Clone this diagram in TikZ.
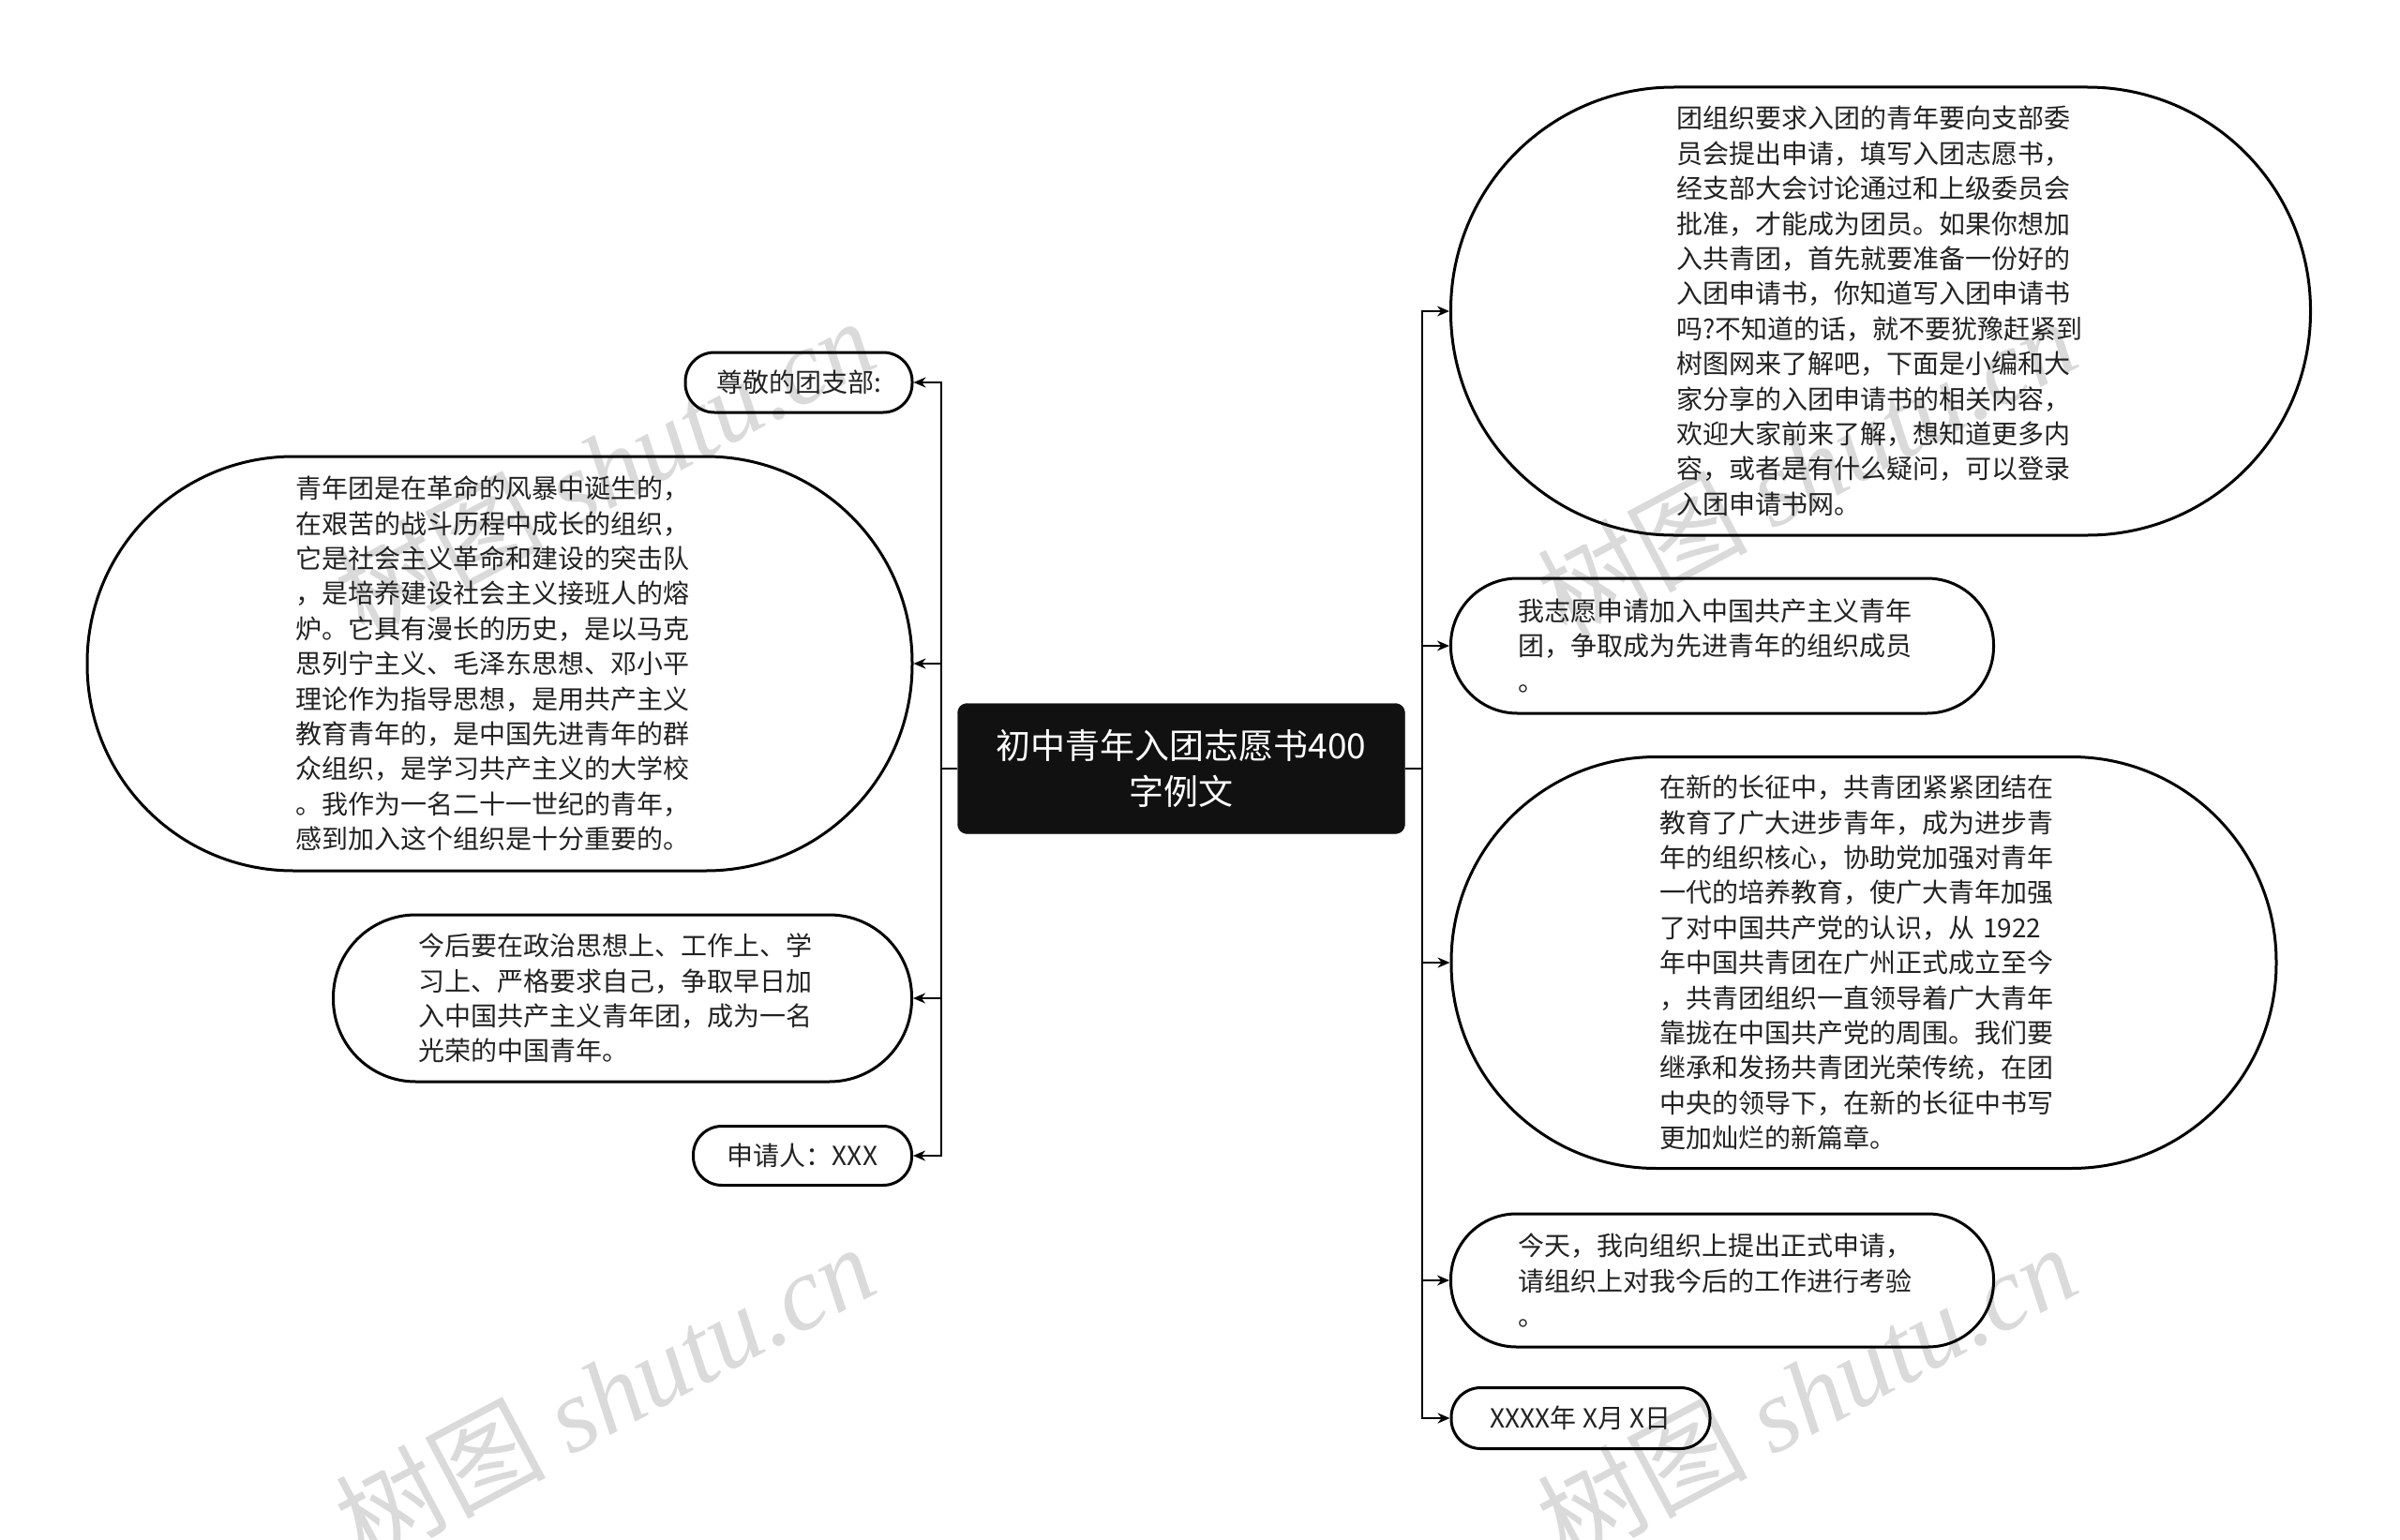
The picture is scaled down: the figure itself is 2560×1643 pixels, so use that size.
\documentclass[tikz,border=0pt]{standalone}
\usepackage{fontspec}
\setmainfont{Noto Sans CJK SC}
\newfontfamily\wmserif{Liberation Serif}
\usetikzlibrary{arrows.meta}
\definecolor{txt}{HTML}{222222}
\definecolor{wmgray}{HTML}{DADADA}
\definecolor{cfill}{HTML}{111111}
\tikzset{
  bub/.style 2 args={draw=black, line width=3pt, minimum width=#1, minimum height=#2,
    rounded corners=0.5*#2-1pt, inner sep=0pt, text=txt, font=\fontsize{28}{37.4}\selectfont},
  para/.style={text width=436pt, align=left},
  conn/.style={line width=2pt, draw=black, -{Stealth[length=13pt,width=11pt]}},
  wm/.style={text=wmgray, rotate=28, inner sep=0pt, font=\fontsize{112}{112}\selectfont},
  central/.style={fill=cfill, draw=cfill, rounded corners=10pt, minimum width=477pt,
    minimum height=139pt, inner sep=0pt, text=white, align=center,
    font=\fontsize{37}{49}\selectfont},
}
\begin{document}
\begin{tikzpicture}[x=1pt,y=-1pt]
\useasboundingbox (0,0) rectangle (2560,1643);
% watermarks
\node[wm] (w1) at (645,498) {树图 {\wmserif\itshape shutu.cn}};
\node[wm] (w2) at (1927,498) {树图 {\wmserif\itshape shutu.cn}};
\node[wm] (w3) at (645,1486) {树图 {\wmserif\itshape shutu.cn}};
\node[wm] (w4) at (1927,1486) {树图 {\wmserif\itshape shutu.cn}};
% central
\node[central] (c) at (1260,820) {初中青年入团志愿书400\\字例文};
% left nodes
\node[bub={242pt}{64pt}] (l1) at (852,408) {尊敬的团支部:};
\node[bub={880pt}{442pt}, para] (l2) at (533,708) {青年团是在革命的风暴中诞生的，\\在艰苦的战斗历程中成长的组织，\\它是社会主义革命和建设的突击队\\，是培养建设社会主义接班人的熔\\炉。它具有漫长的历史，是以马克\\思列宁主义、毛泽东思想、邓小平\\理论作为指导思想，是用共产主义\\教育青年的，是中国先进青年的群\\众组织，是学习共产主义的大学校\\。我作为一名二十一世纪的青年，\\感到加入这个组织是十分重要的。};
\node[bub={617pt}{178pt}, para] (l3) at (664,1065) {今后要在政治思想上、工作上、学\\习上、严格要求自己，争取早日加\\入中国共产主义青年团，成为一名\\光荣的中国青年。};
\node[bub={233pt}{63pt}] (l4) at (856,1233) {申请人：XXX};
% right nodes
\node[bub={917pt}{478pt}, para] (r1) at (2006,332) {团组织要求入团的青年要向支部委\\员会提出申请，填写入团志愿书，\\经支部大会讨论通过和上级委员会\\批准，才能成为团员。如果你想加\\入共青团，首先就要准备一份好的\\入团申请书，你知道写入团申请书\\吗?不知道的话，就不要犹豫赶紧到\\树图网来了解吧，下面是小编和大\\家分享的入团申请书的相关内容，\\欢迎大家前来了解，想知道更多内\\容，或者是有什么疑问，可以登录\\入团申请书网。};
\node[bub={579pt}{144pt}, para] (r2) at (1837,689) {我志愿申请加入中国共产主义青年\\团，争取成为先进青年的组织成员\\。};
\node[bub={880pt}{439pt}, para] (r3) at (1988,1027) {在新的长征中，共青团紧紧团结在\\教育了广大进步青年，成为进步青\\年的组织核心，协助党加强对青年\\一代的培养教育，使广大青年加强\\了对中国共产党的认识，从 1922\\年中国共青团在广州正式成立至今\\，共青团组织一直领导着广大青年\\靠拢在中国共产党的周围。我们要\\继承和发扬共青团光荣传统，在团\\中央的领导下，在新的长征中书写\\更加灿烂的新篇章。};
\node[bub={579pt}{142pt}, para] (r4) at (1837,1366) {今天，我向组织上提出正式申请，\\请组织上对我今后的工作进行考验\\。};
\node[bub={276pt}{65pt}] (r5) at (1686,1513) {XXXX年 X月 X日};
% connectors
\coordinate (lsp) at (1004,820);
\coordinate (rsp) at (1517,820);
\draw[line width=2pt] (c.west) -- (lsp);
\draw[line width=2pt] (c.east) -- (rsp);
\foreach \n in {l1,l2,l3,l4} \draw[conn] (lsp) |- (\n.east);
\foreach \n in {r1,r2,r3,r4,r5} \draw[conn] (rsp) |- (\n.west);
\end{tikzpicture}
\end{document}
